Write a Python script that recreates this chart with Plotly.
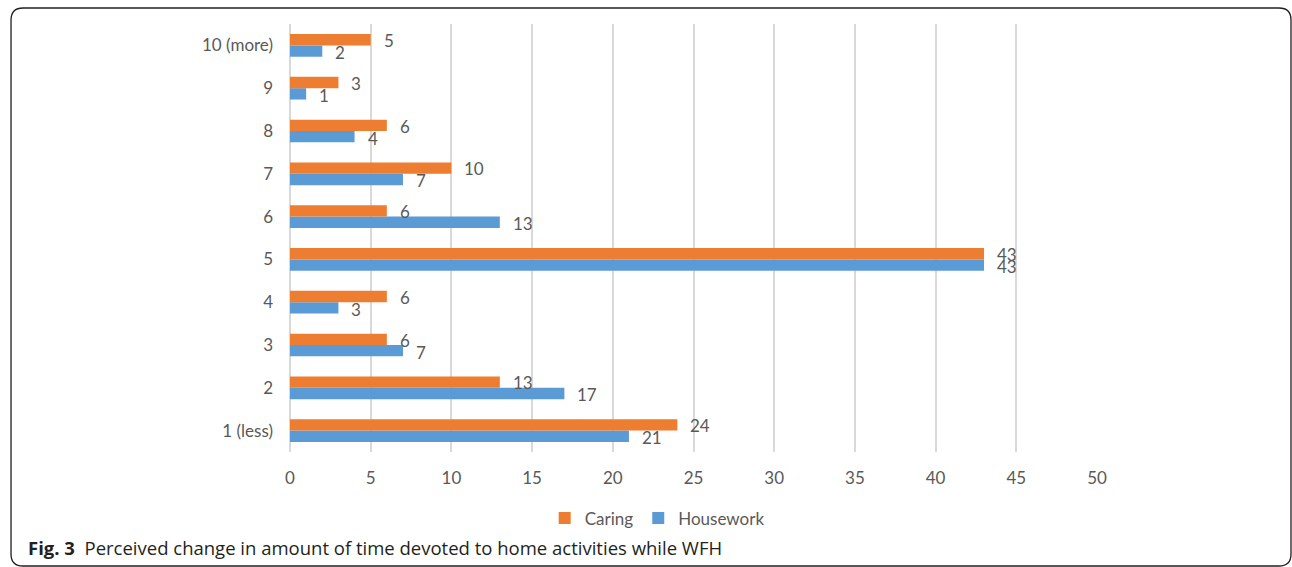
import plotly.graph_objects as go

# Survey responses: perceived change in time spent on home activities
categories = ["1 (less)", "2", "3", "4", "5", "6", "7", "8", "9", "10 (more)"]
caring = [24, 13, 6, 6, 43, 6, 10, 6, 3, 5]
housework = [21, 17, 7, 3, 43, 13, 7, 4, 1, 2]

ORANGE = "#ED7D31"
BLUE = "#5B9BD5"
TEXT = "#595959"
GRID = "#D9D9D9"
FONT = "Lato, Carlito, Calibri, sans-serif"

fig = go.Figure()
# Housework first so it sits below Caring inside each group
fig.add_trace(go.Bar(y=categories, x=housework, orientation="h", name="Housework",
                     marker=dict(color=BLUE, line=dict(width=0)), legendrank=2))
fig.add_trace(go.Bar(y=categories, x=caring, orientation="h", name="Caring",
                     marker=dict(color=ORANGE, line=dict(width=0)), legendrank=1))

# Value labels to the right of each bar (y given as category index)
annotations = []
for i, (c, h) in enumerate(zip(caring, housework)):
    annotations.append(dict(x=c, y=i, xref="x", yref="y", text=str(c), showarrow=False,
                            xanchor="left", yanchor="middle", xshift=11, yshift=5,
                            font=dict(family=FONT, size=17, color=TEXT)))
    annotations.append(dict(x=h, y=i, xref="x", yref="y", text=str(h), showarrow=False,
                            xanchor="left", yanchor="middle", xshift=11, yshift=-7,
                            font=dict(family=FONT, size=17, color=TEXT)))

# Figure caption
annotations.append(dict(
    x=-0.3271, y=-0.222, xref="paper", yref="paper", xanchor="left", yanchor="middle",
    showarrow=False,
    text="<b>Fig. 3</b>  Perceived change in amount of time devoted to home activities while WFH",
    font=dict(family="Open Sans, sans-serif", size=18.5, color="#231F20")))

# Rounded frame around the figure (paper coordinates)
x0, x1, yt, yb = -0.3457, 1.2404, 1.0374, -0.2664
rx, ry = 12 / 807, 12 / 428
frame = (f"M {x0 + rx},{yt} L {x1 - rx},{yt} Q {x1},{yt} {x1},{yt - ry} "
         f"L {x1},{yb + ry} Q {x1},{yb} {x1 - rx},{yb} "
         f"L {x0 + rx},{yb} Q {x0},{yb} {x0},{yb + ry} "
         f"L {x0},{yt - ry} Q {x0},{yt} {x0 + rx},{yt} Z")

fig.update_layout(
    width=1292, height=567,
    margin=dict(l=290, r=195, t=24, b=115),
    paper_bgcolor="white", plot_bgcolor="white",
    barmode="group", bargap=0.47, bargroupgap=0,
    font=dict(family=FONT, size=17, color=TEXT),
    legend=dict(orientation="h", x=0.455, xanchor="center", y=-0.155, yanchor="middle",
                font=dict(family=FONT, size=17, color=TEXT), traceorder="normal",
                itemwidth=30, bgcolor="rgba(0,0,0,0)"),
    annotations=annotations,
    shapes=[dict(type="path", xref="paper", yref="paper", path=frame,
                 line=dict(color="#231F20", width=1.3), fillcolor="rgba(0,0,0,0)")],
)
fig.update_xaxes(range=[0, 50], dtick=5, tick0=0, showgrid=True, gridcolor=GRID, gridwidth=1.5,
                 zeroline=True, zerolinecolor=GRID, zerolinewidth=1.5, showline=False,
                 ticks="", ticklabelstandoff=14, tickfont=dict(family=FONT, size=17, color=TEXT),
                 fixedrange=True)
fig.update_yaxes(type="category", categoryorder="array", categoryarray=categories,
                 showgrid=False, zeroline=False, showline=False, ticks="",
                 ticklabelstandoff=16, tickfont=dict(family=FONT, size=17, color=TEXT),
                 fixedrange=True)

fig.write_html("out.html")
